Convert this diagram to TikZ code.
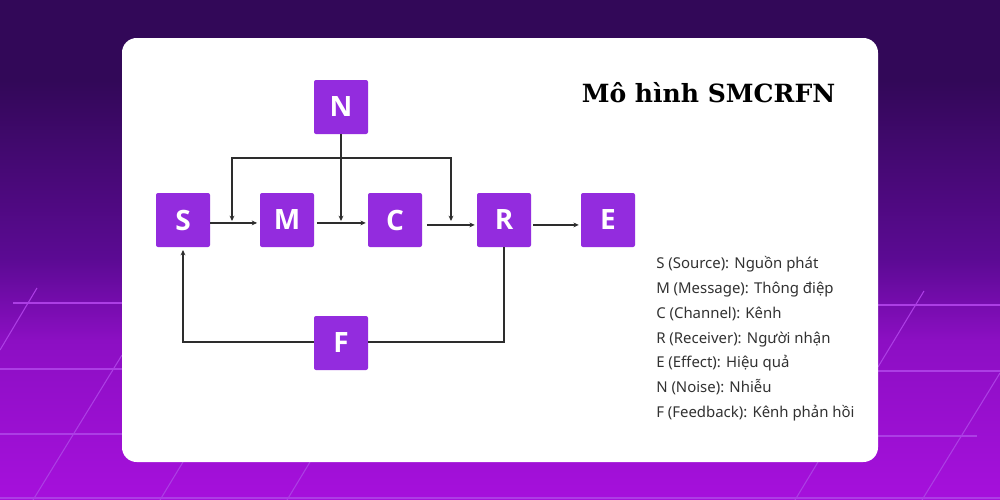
\documentclass[tikz,border=0pt]{standalone}
\usepackage{fontspec}
\setmainfont{Noto Sans}
\newfontfamily\titlefont{DejaVu Serif}
\newfontfamily\boxfont{Open Sans}
\usetikzlibrary{arrows.meta}
\definecolor{bgtop}{RGB}{50,8,88}
\definecolor{bgmid}{RGB}{92,10,148}
\definecolor{bglow}{RGB}{140,15,195}
\definecolor{bgbot}{RGB}{166,16,220}
\definecolor{boxc}{RGB}{147,44,222}
\definecolor{gridc}{RGB}{172,62,228}
\definecolor{linec}{RGB}{45,45,45}
\definecolor{txtc}{RGB}{50,50,50}
\tikzset{
  x=0.75pt,y=-0.75pt,
  blockbox/.style={fill=boxc,rounded corners=1.5pt,minimum width=40.5pt,minimum height=40.5pt,inner sep=0pt,text=white,font=\fontsize{21}{21}\selectfont\boxfont\bfseries},
  conn/.style={draw=linec,line width=0.85pt,-{Stealth[length=4pt,width=3.6pt]}},
  plainconn/.style={draw=linec,line width=0.85pt},
  gridline/.style={draw=gridc,line width=0.8pt},
  legend/.style={anchor=base west,inner sep=0pt,text=txtc,font=\fontsize{11.2}{13}\selectfont},
}
\begin{document}
\begin{tikzpicture}
\useasboundingbox (0,0) rectangle (1000,500);
\fill[bgtop] (0,0) rectangle (1000,81);
\shade[top color=bgtop,bottom color=bgmid] (0,80) rectangle (1000,261);
\shade[top color=bgmid,bottom color=bglow] (0,260) rectangle (1000,341);
\shade[top color=bglow,bottom color=bgbot] (0,340) rectangle (1000,500);
% background grid
\draw[gridline] (13,303) -- (122,303);
\draw[gridline] (0,369) -- (122,369);
\draw[gridline] (0,434) -- (122,434);
\draw[gridline] (0,498) -- (1000,498);
\draw[gridline] (37,288) -- (0,350);
\draw[gridline] (122,355) -- (33,500);
\draw[gridline] (183,462) -- (160,500);
\draw[gridline] (310,462) -- (287,500);
\draw[gridline] (878,305) -- (1000,305);
\draw[gridline] (878,371) -- (1000,371);
\draw[gridline] (878,436) -- (977,436);
\draw[gridline] (924,291) -- (878,367);
\draw[gridline] (1000,373) -- (922,500);
\draw[gridline] (818,462) -- (795,500);
% card
\fill[white,rounded corners=11pt] (122,38) rectangle (878,462);
% nodes
\node[blockbox] (S) at (183,220) {S};
\node[blockbox] (M) at (287,220) {M};
\node[blockbox] (C) at (395,220) {C};
\node[blockbox] (R) at (504,220) {R};
\node[blockbox] (E) at (608,220) {E};
\node[blockbox] (N) at (341,107) {N};
\node[blockbox] (F) at (341,343) {F};
\coordinate (busL) at (232,158);
\coordinate (busM) at (341,158);
\coordinate (busR) at (451,158);
\coordinate (tgtL) at (232,221);
\coordinate (tgtM) at (341,221);
\coordinate (tgtR) at (451,221);
\coordinate (fbL) at (183,342);
\coordinate (fbR) at (504,342);
\coordinate (fbS) at (183,250);
% connectors
\draw[conn] ([yshift=-2.2pt]S.east) -- ([yshift=-2.2pt,xshift=-2pt]M.west);
\draw[conn] ([yshift=-2.2pt,xshift=2pt]M.east) -- ([yshift=-2.2pt,xshift=-1.5pt]C.west);
\draw[conn] ([yshift=-3.7pt,xshift=3.5pt]C.east) -- ([yshift=-3.7pt,xshift=-1.5pt]R.west);
\draw[conn] ([yshift=-3.7pt,xshift=1.5pt]R.east) -- ([yshift=-3.7pt,xshift=-1.5pt]E.west);
\draw[plainconn] (N.south) -- (busM);
\draw[conn] (busM) -- (tgtM);
\draw[conn] (busL) -- (tgtL);
\draw[conn] (busR) -- (tgtR);
\draw[plainconn,line cap=rect] (busL) -- (busR);
\draw[conn] (F.west |- fbL) -- (fbL) -- (fbS);
\draw[plainconn,line width=1.1pt] (R.south) -- (fbR) -- (F.east |- fbR);
% title
\node[anchor=base,inner sep=0pt,text=black,font=\fontsize{18.8}{19}\selectfont\titlefont\bfseries] (T) at (708.5,102) {Mô hình SMCRFN};
% legend
\node[legend] (L1) at (656,268.5) {S (Source): Nguồn phát};
\node[legend] (L2) at (656,293.5) {M (Message): Thông điệp};
\node[legend] (L3) at (656,318) {C (Channel): Kênh};
\node[legend] (L4) at (656,343) {R (Receiver): Người nhận};
\node[legend] (L5) at (656,367.5) {E (Effect): Hiệu quả};
\node[legend] (L6) at (656,392) {N (Noise): Nhiễu};
\node[legend] (L7) at (656,417) {F (Feedback): Kênh phản hồi};
\end{tikzpicture}
\end{document}
